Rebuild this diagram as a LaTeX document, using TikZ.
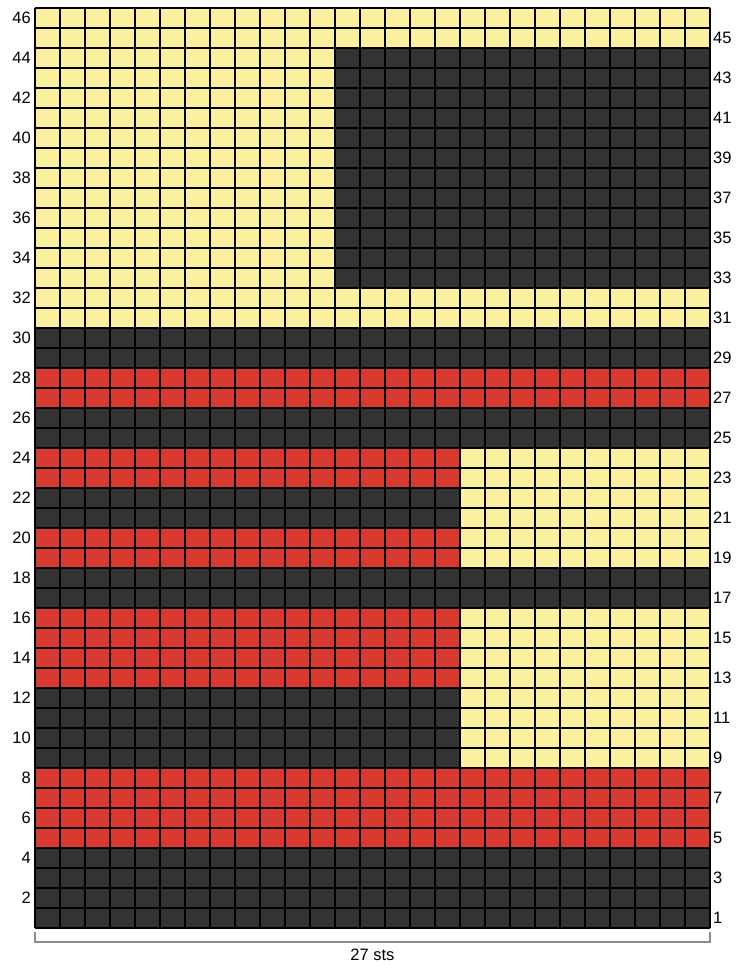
\documentclass[tikz,border=0pt]{standalone}
\usepackage{fontspec}
\setmainfont{Liberation Sans}
\definecolor{yarncream}{HTML}{FBEFA0}
\definecolor{yarnred}{HTML}{D93A30}
\definecolor{yarndark}{HTML}{333333}
\definecolor{bracketgray}{HTML}{8C8C8C}
\begin{document}
\begin{tikzpicture}[
    x=1pt, y=1pt,
    every node/.style={font=\fontsize{16.5}{16.5}\selectfont},
    rowlabel/.style={inner sep=0pt},
    gridline/.style={draw=black, line width=1.1pt}
]
\useasboundingbox[fill=white] (0,0) rectangle (739,969);

% ---------- macro to fill a block of cells ----------
% #1 = colour, #2 = first col, #3 = last col, #4 = first row, #5 = last row
\newcommand{\fillcells}[5]{
    \fill[#1] (#2-1,#4-1) rectangle (#3,#5);
}

\begin{scope}[shift={(35,41)}, x=25pt, y=20pt]
    % ---------- colour blocks ----------
    \fillcells{yarndark}{1}{27}{1}{4}
    \fillcells{yarnred}{1}{27}{5}{8}
    \fillcells{yarndark}{1}{17}{9}{12}
    \fillcells{yarncream}{18}{27}{9}{16}
    \fillcells{yarnred}{1}{17}{13}{16}
    \fillcells{yarndark}{1}{27}{17}{18}
    \fillcells{yarnred}{1}{17}{19}{20}
    \fillcells{yarncream}{18}{27}{19}{24}
    \fillcells{yarndark}{1}{17}{21}{22}
    \fillcells{yarnred}{1}{17}{23}{24}
    \fillcells{yarndark}{1}{27}{25}{26}
    \fillcells{yarnred}{1}{27}{27}{28}
    \fillcells{yarndark}{1}{27}{29}{30}
    \fillcells{yarncream}{1}{27}{31}{46}
    \fillcells{yarndark}{13}{27}{33}{44}

    % ---------- grid ----------
    \draw[gridline, xstep=1, ystep=1] (0,0) grid (27,46);

    % ---------- row numbers: even on the left, odd on the right ----------
    \foreach \r in {2,4,...,46}{
        \node[rowlabel, anchor=east] (row\r) at (-0.16,\r-0.5) {\r};
    }
    \foreach \r in {1,3,...,45}{
        \node[rowlabel, anchor=west] (row\r) at (27.12,\r-0.5) {\r};
    }

    % ---------- width bracket ----------
    \draw[bracketgray, line width=1.6pt]
        (0,-0.2) -- (0,-0.7) -- (27,-0.7) -- (27,-0.2);
    \node (width) at (13.5,-1.35) {27 sts};
\end{scope}

\end{tikzpicture}
\end{document}
